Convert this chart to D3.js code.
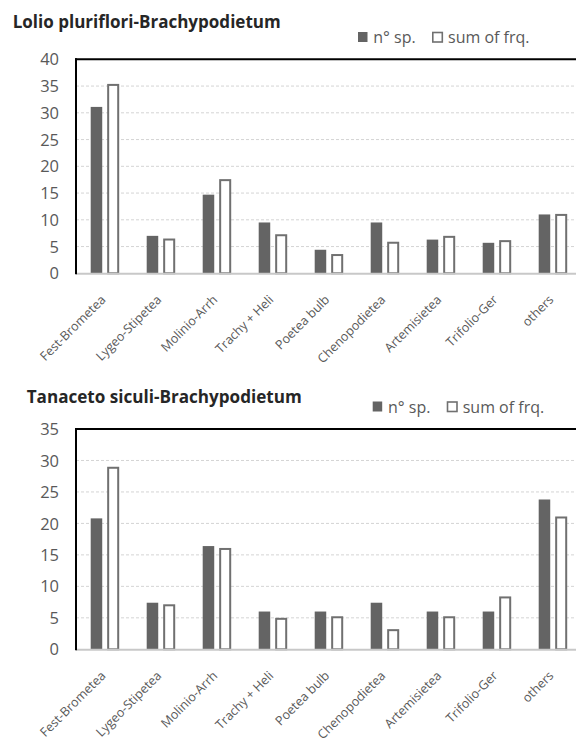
<!DOCTYPE html>
<html><head><meta charset="utf-8">
<script src="https://cdn.jsdelivr.net/npm/d3@7"></script>
<style>
html,body{margin:0;padding:0;background:#fff;}
svg{display:block;}
</style></head>
<body>
<svg id="c" width="576" height="742"></svg>
<script>
const categories = ["Fest-Brometea","Lygeo-Stipetea","Molinio-Arrh","Trachy + Heli","Poetea bulb","Chenopodietea","Artemisietea","Trifolio-Ger","others"];
const seriesNames = ["n° sp.","sum of frq."];
const lolioSpecies = [31.1, 7.0, 14.7, 9.5, 4.4, 9.5, 6.3, 5.7, 11.0];
const lolioFreq    = [35.4, 6.5, 17.6, 7.3, 3.6, 5.9, 7.0, 6.2, 11.1];
const tanacetoSpecies = [20.8, 7.4, 16.4, 6.0, 6.0, 7.4, 6.0, 6.0, 23.8];
const tanacetoFreq    = [29.0, 7.15, 16.1, 5.0, 5.25, 3.2, 5.25, 8.4, 21.1];
const lolioTicks = [0,5,10,15,20,25,30,35,40];
const tanacetoTicks = [0,5,10,15,20,25,30,35];
const titles = ["Lolio pluriflori-Brachypodietum","Tanaceto siculi-Brachypodietum"];

const svg = d3.select("#c");
const FONT = "'Open Sans', sans-serif";
const GREY_TXT = "#595959";

function drawChart(cfg){
  const g = svg.append("g");
  const x0 = d3.scaleBand().domain(categories).range([76.7, 580.7]).paddingInner(0.5).paddingOuter(0.25);
  const x1 = d3.scaleBand().domain(seriesNames).range([0, x0.bandwidth()]).paddingInner(0.3);
  const y = d3.scaleLinear().domain([0, d3.max(cfg.ticks)]).range([cfg.y0, cfg.yTop]);

  // dashed gridlines
  g.append("g").selectAll("line").data(cfg.ticks.filter(t=>t>0 && t<d3.max(cfg.ticks))).join("line")
    .attr("x1", 76).attr("x2", 580).attr("y1", d=>y(d)).attr("y2", d=>y(d))
    .attr("stroke", "#d4d4d4").attr("stroke-width", 1).attr("stroke-dasharray", "3,2");

  // y axis tick labels
  const yAxis = d3.axisLeft(y).tickValues(cfg.ticks).tickSize(0).tickPadding(0);
  const ya = g.append("g").attr("transform", "translate(59,0)").call(yAxis);
  ya.select(".domain").remove();
  ya.selectAll("text").attr("font-family", FONT).attr("font-size", 16.5).attr("fill", GREY_TXT).attr("dy","0.34em");

  // grouped bars
  const data = categories.map((c,i)=>({cat:c, vals:[cfg.species[i], cfg.freq[i]]}));
  const grp = g.append("g").selectAll("g").data(data).join("g")
    .attr("transform", d=>`translate(${x0(d.cat)},0)`);
  grp.selectAll("rect").data(d=>d.vals.map((v,k)=>({k, v}))).join("rect")
    .attr("x", d=>x1(seriesNames[d.k]) + (d.k===1?1:0))
    .attr("width", d=>x1.bandwidth() - (d.k===1?1.5:0))
    .attr("y", d=>y(d.v) + (d.k===1?1:0))
    .attr("height", d=>cfg.y0 - y(d.v) - (d.k===1?1:0))
    .attr("fill", d=>d.k===0 ? "#646464" : "#ffffff")
    .attr("stroke", d=>d.k===0 ? "none" : "#707070")
    .attr("stroke-width", 2);

  // frame: top, left and right black, bottom axis grey
  g.append("line").attr("x1", 75).attr("x2", 580).attr("y1", cfg.yTop).attr("y2", cfg.yTop).attr("stroke", "#000").attr("stroke-width", 2);
  g.append("line").attr("x1", 580).attr("x2", 580).attr("y1", cfg.yTop).attr("y2", cfg.y0).attr("stroke", "#000").attr("stroke-width", 2);
  g.append("line").attr("x1", 76).attr("x2", 580).attr("y1", cfg.y0+0.5).attr("y2", cfg.y0+0.5).attr("stroke", "#c8c8c8").attr("stroke-width", 2);
  g.append("line").attr("x1", 76).attr("x2", 76).attr("y1", cfg.yTop-1).attr("y2", cfg.y0+1).attr("stroke", "#000").attr("stroke-width", 2);

  // rotated category labels
  g.append("g").selectAll("text").data(categories).join("text")
    .attr("transform", d=>`translate(${x0(d)+x0.bandwidth()/2 - 1.5},${cfg.y0+24}) rotate(-45)`)
    .attr("text-anchor", "end").attr("dy", "0.35em")
    .attr("font-family", FONT).attr("font-size", 12.6).attr("fill", GREY_TXT)
    .text(d=>d);

  // title
  g.append("text").attr("x", cfg.titleX).attr("y", cfg.titleY)
    .attr("font-family", FONT).attr("font-weight", "bold").attr("font-size", 18.5).attr("fill", "#262626")
    .attr("textLength", cfg.titleW).attr("lengthAdjust", "spacingAndGlyphs")
    .text(cfg.title);

  // legend
  const lg = g.append("g").attr("transform", `translate(${cfg.legX},${cfg.legY})`);
  lg.append("rect").attr("x", 0).attr("y", -11).attr("width", 9.5).attr("height", 10).attr("fill", "#646464");
  lg.append("text").attr("x", 15.3).attr("y", 0).attr("font-family", FONT).attr("font-size", 16).attr("fill", GREY_TXT).text(seriesNames[0]);
  lg.append("rect").attr("x", 74.8).attr("y", -10.5).attr("width", 9.5).attr("height", 9.5).attr("fill", "#fff").attr("stroke", "#707070").attr("stroke-width", 1.6);
  lg.append("text").attr("x", 90).attr("y", 0).attr("font-family", FONT).attr("font-size", 16).attr("fill", GREY_TXT).text(seriesNames[1]);
}

drawChart({species: lolioSpecies, freq: lolioFreq, ticks: lolioTicks, yTop: 59.3, y0: 273.3,
  title: titles[0], titleX: 12.7, titleY: 28, titleW: 268, legX: 358, legY: 43});
drawChart({species: tanacetoSpecies, freq: tanacetoFreq, ticks: tanacetoTicks, yTop: 429, y0: 649.3,
  title: titles[1], titleX: 26.7, titleY: 403, titleW: 275, legX: 372.7, legY: 412.5});
</script>
</body></html>
